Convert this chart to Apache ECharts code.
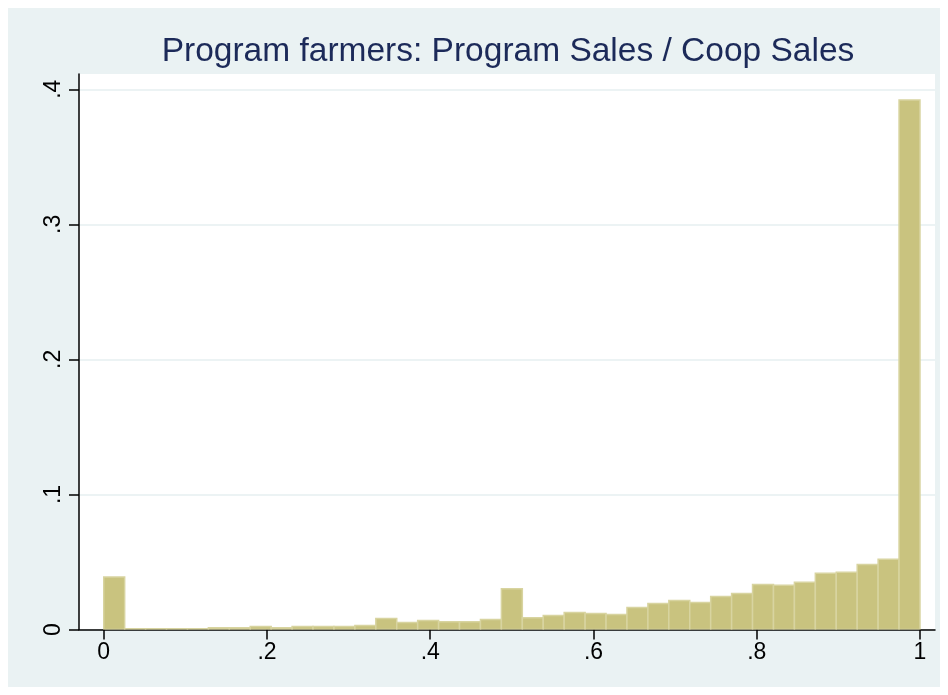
<!DOCTYPE html>
<html>
<head>
<meta charset="utf-8">
<title>Program farmers</title>
<script src="https://cdn.jsdelivr.net/npm/echarts@6/dist/echarts.min.js"></script>
<style>
  html,body{margin:0;padding:0;background:#fff;}
  .hist{width:948px;height:695px;}
</style>
</head>
<body>
<div class="hist"></div>
<script>
// 直方图数据：39 个区间，从 0 到 1
var binStart = 0;
var binWidth = 1 / 39;
var density = [
  0.0388, 0.0006, 0.0006, 0.0006, 0.0006, 0.0013, 0.0013, 0.0022, 0.0013, 0.0022,
  0.0022, 0.0022, 0.0030, 0.0082, 0.0052, 0.0067, 0.0057, 0.0057, 0.0074, 0.0302,
  0.0087, 0.0104, 0.0126, 0.0119, 0.0111, 0.0163, 0.0193, 0.0215, 0.0200, 0.0245,
  0.0267, 0.0334, 0.0327, 0.0349, 0.0416, 0.0423, 0.0482, 0.0520, 0.3920
];
var xTicks = [0, 0.2, 0.4, 0.6, 0.8, 1];
var yTicks = [0, 0.1, 0.2, 0.3, 0.4];
var titleText = 'Program farmers: Program Sales / Coop Sales';

(function(){
  var myChart = echarts.init(document.querySelector('.hist'));
  var bins = density.map(function(v, i){
    return [binStart + i * binWidth, binStart + (i + 1) * binWidth, v];
  });
  // stata 风格的刻度：去掉前导 0
  function stataLabel(v){
    var s = String(Math.round(v * 10) / 10);
    return s.replace(/^0\./, '.');
  }
  var option = {
    backgroundColor: '#fff',
    animation: false,
    graphic: [{
      type: 'rect',
      z: -100,
      silent: true,
      shape: {x: 8, y: 8, width: 932, height: 679},
      style: {fill: '#EAF2F3'}
    }],
    title: {
      text: titleText,
      left: 503,
      top: 30,
      textAlign: 'center',
      textStyle: {
        color: '#1C2A59',
        fontFamily: 'Liberation Sans',
        fontSize: 33.5,
        fontWeight: 'normal'
      }
    },
    grid: {
      left: 79,
      top: 74,
      width: 856,
      height: 555.5,
      show: true,
      backgroundColor: '#fff',
      borderWidth: 0
    },
    xAxis: {
      type: 'value',
      min: -0.0303,
      max: 1.0184,
      axisLine: {show: true, onZero: false, lineStyle: {color: '#000', width: 1.5}},
      axisTick: {show: true, length: 10, customValues: xTicks, lineStyle: {color: '#000', width: 1.5}},
      axisLabel: {
        customValues: xTicks,
        margin: 12,
        color: '#000',
        fontFamily: 'Liberation Sans',
        fontSize: 23,
        formatter: stataLabel
      },
      splitLine: {show: false}
    },
    yAxis: {
      type: 'value',
      min: 0,
      max: 0.4113,
      axisLine: {show: true, onZero: false, lineStyle: {color: '#000', width: 1.5}},
      axisTick: {show: true, length: 10, customValues: yTicks, lineStyle: {color: '#000', width: 1.5}},
      axisLabel: {
        customValues: yTicks,
        rotate: 90,
        margin: 14,
        color: '#000',
        fontFamily: 'Liberation Sans',
        fontSize: 23,
        formatter: stataLabel
      },
      splitLine: {show: true, lineStyle: {color: '#E6EFF1', width: 1.5}}
    },
    series: [{
      type: 'custom',
      clip: true,
      data: bins,
      renderItem: function(params, api){
        var p0 = api.coord([api.value(0), api.value(2)]);
        var p1 = api.coord([api.value(1), 0]);
        return {
          type: 'rect',
          shape: {x: p0[0], y: p0[1], width: p1[0] - p0[0], height: p1[1] - p0[1]},
          style: {fill: '#C9C37F', stroke: '#D8D4A0', lineWidth: 1.5}
        };
      }
    }]
  };
  myChart.setOption(option);
  window.addEventListener('resize', function(){
    myChart.resize();
  });
})();
</script>
</body>
</html>
